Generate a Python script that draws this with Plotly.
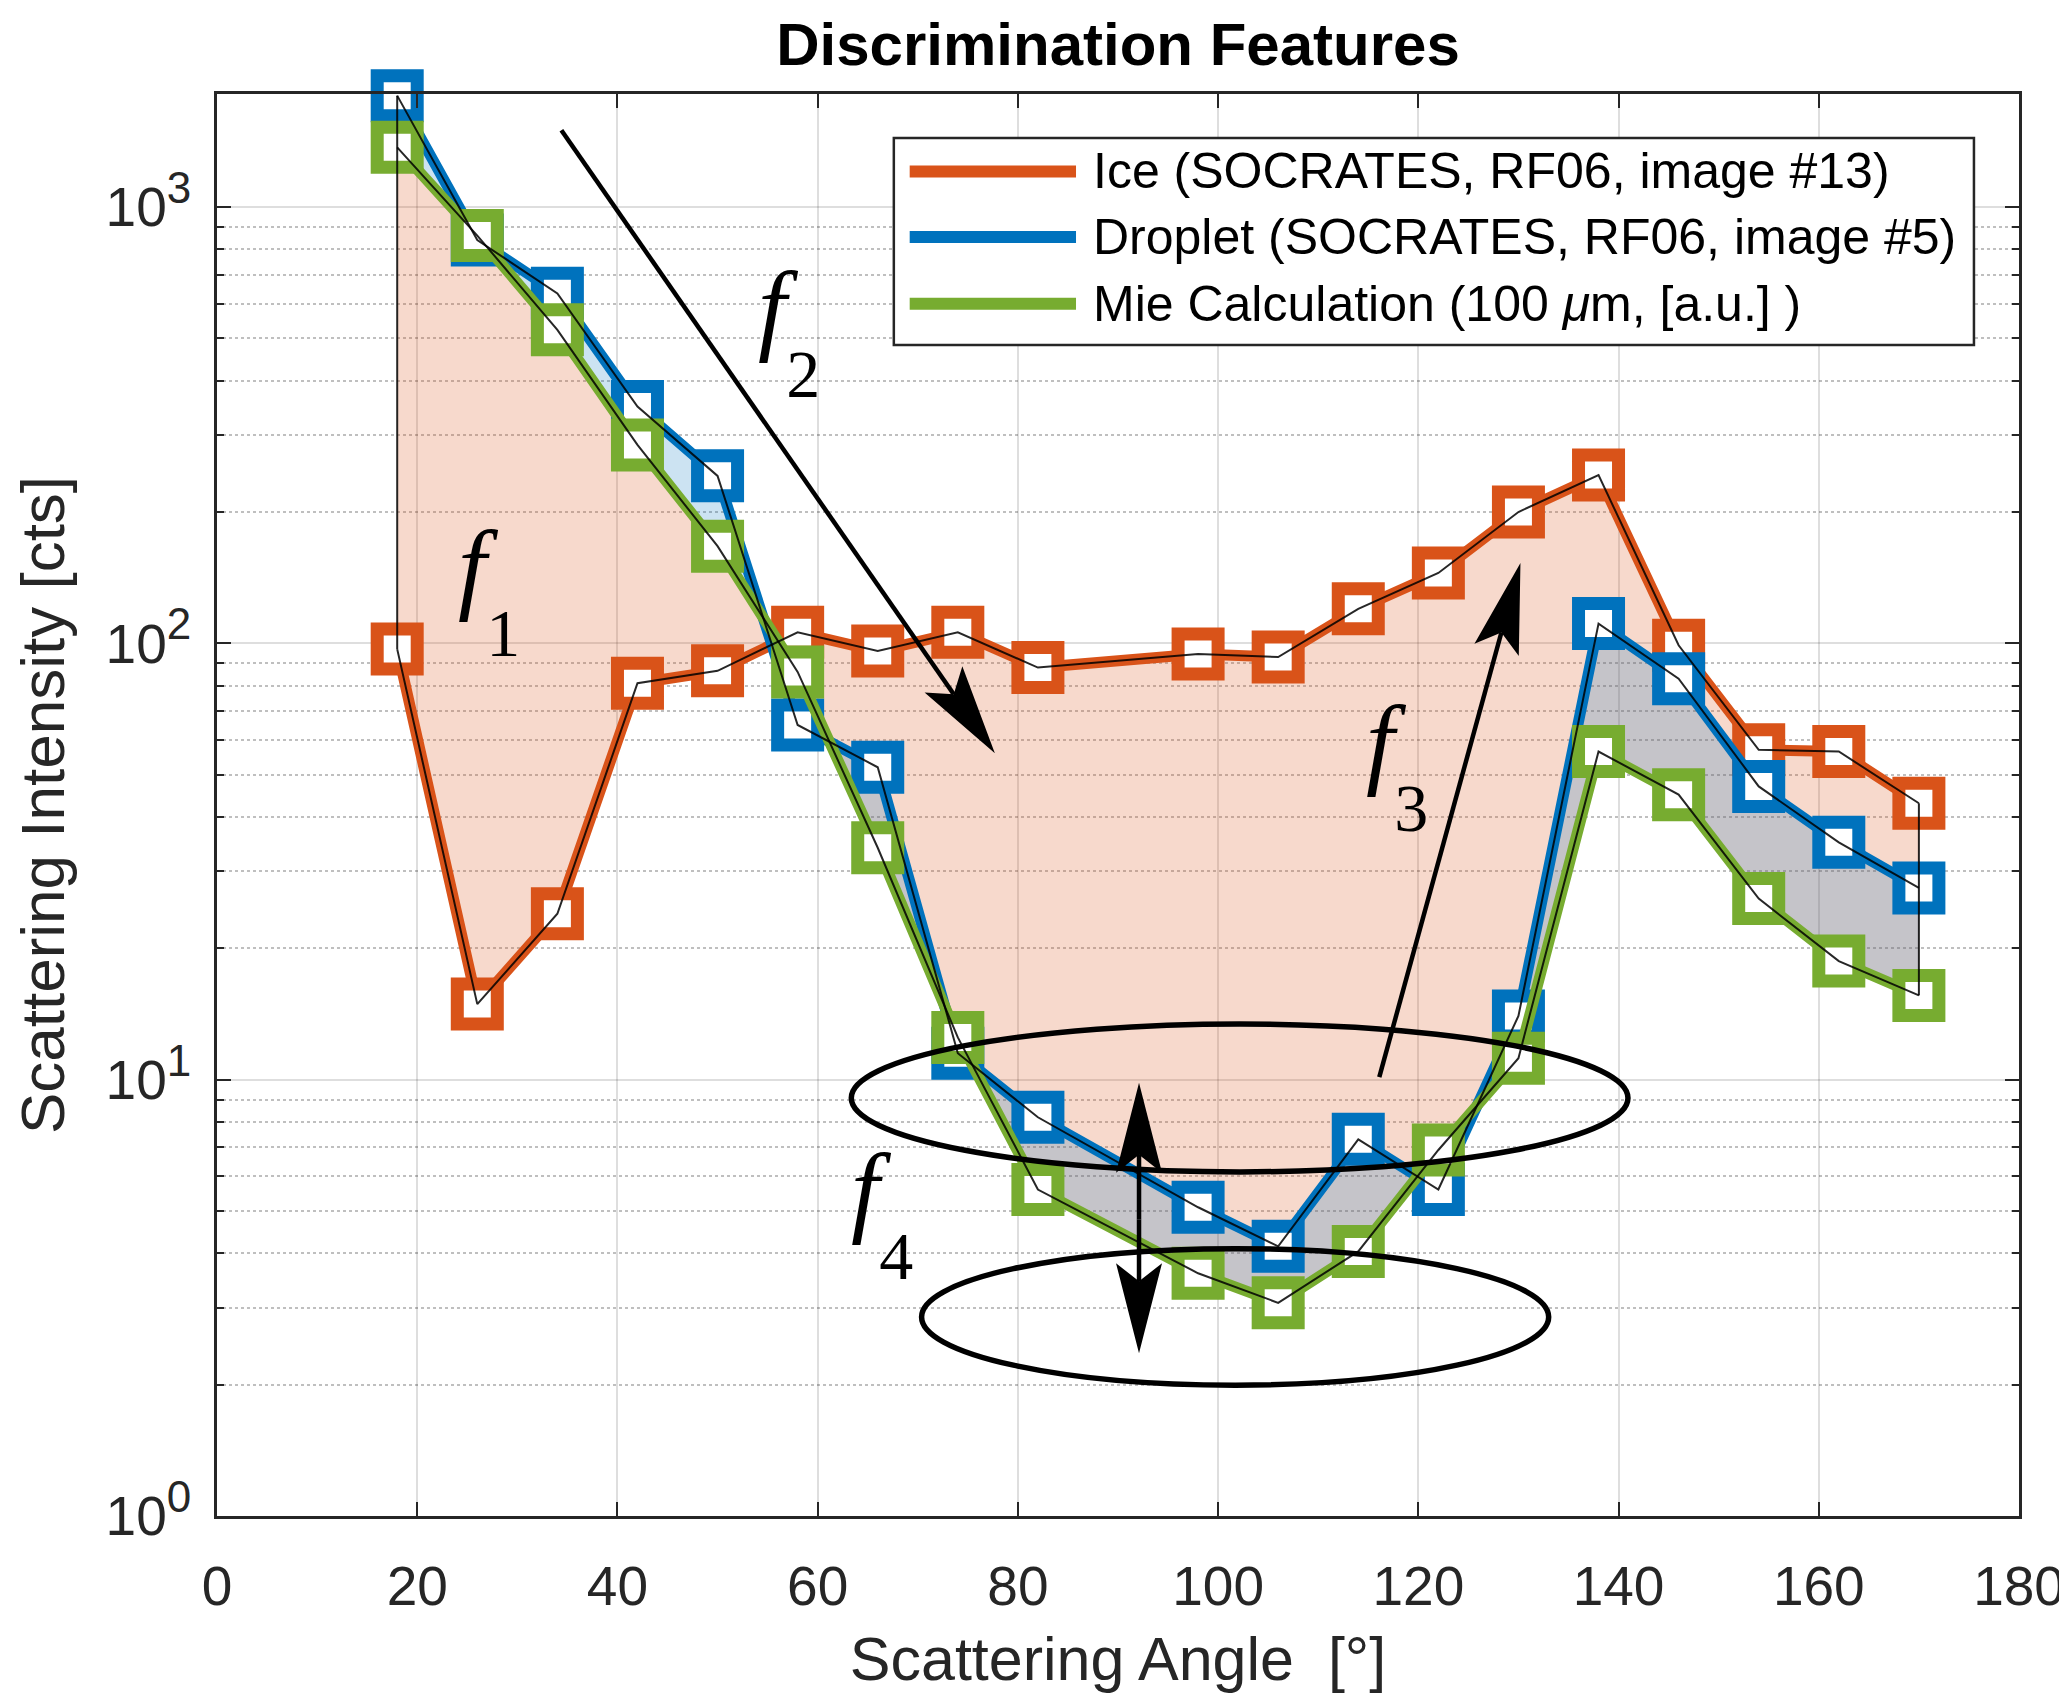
import math
import plotly.graph_objects as go

# ---------------- data ----------------
ANGLE = [18, 26, 34, 42, 50, 58, 66, 74, 82, 98, 106, 114, 122, 130, 138, 146, 154, 162, 170]
ICE = [97, 14.9, 24, 81, 86.5, 106, 96, 106, 88, 94.5, 93, 120, 145, 200, 243, 99, 57, 56.5, 43]
DROPLET = [1800, 840, 634, 349, 242, 65, 52, 11.5, 8.2, 5.1, 4.15, 7.3, 5.6, 14, 111, 83, 47, 35, 27.5]
MIE = [1370, 860, 523, 285, 167, 86, 34, 12.5, 5.6, 3.6, 3.08, 4.04, 6.9, 11.2, 56.5, 45, 26, 18.7, 15.6]

SERIES_NAMES = ["Ice (SOCRATES, RF06, image #13)",
                "Droplet (SOCRATES, RF06, image #5)",
                "Mie Calculation (100 <i>μ</i>m, [a.u.] )"]
X_TICKS = [0, 20, 40, 60, 80, 100, 120, 140, 160, 180]
Y_TICKS = [1, 10, 100, 1000]
Y_EXPONENTS = ["0", "1", "2", "3"]

# ---------------- style ----------------
C_ICE = "#D95319"
C_DROP = "#0072BD"
C_MIE = "#77AC30"
AX = "#262626"
FONT = "Liberation Sans, Arial, sans-serif"
SERIF = "Liberation Serif, DejaVu Serif, serif"

W, H = 2067, 1694
ML, MR, MT, MB = 209, 56, 86, 186
PW, PH = W - ML - MR, H - MT - MB
XR = (0, 180)
YR = (0, 3.259)

fig = go.Figure()

# fills: ice <-> mie (salmon), droplet <-> mie (translucent blue)
fig.add_trace(go.Scatter(x=ANGLE, y=MIE, mode="lines", line=dict(width=0),
                         showlegend=False, hoverinfo="skip"))
fig.add_trace(go.Scatter(x=ANGLE, y=ICE, mode="lines", line=dict(width=0),
                         fill="tonexty", fillcolor="rgba(217,83,25,0.22)",
                         showlegend=False, hoverinfo="skip"))
fig.add_trace(go.Scatter(x=ANGLE, y=MIE, mode="lines", line=dict(width=0),
                         showlegend=False, hoverinfo="skip"))
fig.add_trace(go.Scatter(x=ANGLE, y=DROPLET, mode="lines", line=dict(width=0),
                         fill="tonexty", fillcolor="rgba(0,114,189,0.20)",
                         showlegend=False, hoverinfo="skip"))

# coloured lines with square markers
for yv, col, name in [(ICE, C_ICE, SERIES_NAMES[0]),
                      (DROPLET, C_DROP, SERIES_NAMES[1]),
                      (MIE, C_MIE, SERIES_NAMES[2])]:
    fig.add_trace(go.Scatter(
        x=ANGLE, y=yv, mode="lines+markers", name=name, showlegend=False,
        line=dict(color=col, width=11),
        marker=dict(symbol="square", size=40, color="white",
                    line=dict(color=col, width=13)),
        cliponaxis=False))

# thin black outlines of the filled patches
BLK = "rgba(0,0,0,0.85)"
for yv in (ICE, DROPLET, MIE):
    fig.add_trace(go.Scatter(x=ANGLE, y=yv, mode="lines", line=dict(color=BLK, width=2),
                             showlegend=False, hoverinfo="skip", cliponaxis=False))
fig.add_trace(go.Scatter(x=[ANGLE[0], ANGLE[0]], y=[DROPLET[0], ICE[0]], mode="lines",
                         line=dict(color=BLK, width=2),
                         showlegend=False, hoverinfo="skip", cliponaxis=False))
fig.add_trace(go.Scatter(x=[ANGLE[-1], ANGLE[-1]], y=[ICE[-1], MIE[-1]], mode="lines",
                         line=dict(color=BLK, width=2),
                         showlegend=False, hoverinfo="skip", cliponaxis=False))

shapes = []
annotations = []


# ---------------- arrows (annotation geometry, x in deg, y in log10) ----------------
def to_px(x, ly):
    return ((x - XR[0]) / (XR[1] - XR[0]) * PW, (ly - YR[0]) / (YR[1] - YR[0]) * PH)


def to_data(px, py):
    return (XR[0] + px / PW * (XR[1] - XR[0]), YR[0] + py / PH * (YR[1] - YR[0]))


def arrow(tail, tip, hl=90, hw=46, notch=18, lw=4.5):
    tx, ty = to_px(*tail)
    hx, hy = to_px(*tip)
    dx, dy = hx - tx, hy - ty
    L = math.hypot(dx, dy)
    ux, uy = dx / L, dy / L
    nx, ny = -uy, ux
    pts = [(0, 0),
           (-hl * ux + hw / 2 * nx, -hl * uy + hw / 2 * ny),
           (-(hl - notch) * ux, -(hl - notch) * uy),
           (-hl * ux - hw / 2 * nx, -hl * uy - hw / 2 * ny)]
    path = "M" + " L".join(f"{px:.2f},{py:.2f}" for px, py in pts) + " Z"
    shapes.append(dict(type="path", xref="x", yref="y", xsizemode="pixel",
                       ysizemode="pixel", xanchor=tip[0], yanchor=10 ** tip[1],
                       path=path, fillcolor="black", line=dict(width=0), layer="above"))
    ex, ey = to_data(hx - (hl - notch) * ux, hy - (hl - notch) * uy)
    shapes.append(dict(type="line", xref="x", yref="y", x0=tail[0], y0=10 ** tail[1],
                       x1=ex, y1=10 ** ey, line=dict(color="black", width=lw), layer="above"))


ARROW_F2 = [(34.4, 3.176), (77.7, 1.748)]
ARROW_F3 = [(116.1, 1.006), (130.2, 2.184)]
ARROW_F4_MID = (92.1, 0.68)
ARROW_F4_TOP = (92.1, 0.993)
ARROW_F4_BOT = (92.1, 0.373)
arrow(*ARROW_F2)
arrow(*ARROW_F3)
arrow(ARROW_F4_MID, ARROW_F4_TOP)
arrow(ARROW_F4_MID, ARROW_F4_BOT)

# ellipses (paper coords)
ELLIPSES = [(0.352, 0.242, 0.783, 0.346), (0.391, 0.092, 0.739, 0.188)]
for x0, y0, x1, y1 in ELLIPSES:
    shapes.append(dict(type="circle", xref="paper", yref="paper", x0=x0, y0=y0, x1=x1, y1=y1,
                       line=dict(color="black", width=5.5), layer="above"))

# feature labels f1..f4 : glyph "f" centre (deg, log10); subscript drawn with a baseline shift
FEATURES = [("1", (25.7, 2.157)),
            ("2", (55.7, 2.749)),
            ("3", (116.4, 1.754)),
            ("4", (65.0, 0.727))]
F_SIZE = 102
SUB_SIZE = 68
for sub, fpos in FEATURES:
    cx, cy = to_px(*fpos)
    # anchor the text box top-left: box top ~ 0.89em above baseline, f centre ~0.23em above it
    left_px = cx - 0.17 * F_SIZE
    top_px = cy + (0.89 - 0.23) * F_SIZE
    annotations.append(dict(
        x=left_px / PW, y=top_px / PH, xref="paper", yref="paper",
        text=(f"<i>f</i><span style='font-size:{SUB_SIZE}px;baseline-shift:-56px'>"
              f"{sub}</span>"),
        showarrow=False, font=dict(family=SERIF, size=F_SIZE, color="black"),
        xanchor="left", yanchor="top", borderpad=0))

# ---------------- manual legend (paper coords) ----------------
LEG_BOX = (0.3756, 0.8235, 0.975, 0.969)
LEG_ROWS = [0.9455, 0.8995, 0.8525]
LEG_LINE_X = (0.3844, 0.4767)
LEG_TEXT_X = 0.4850
shapes.append(dict(type="rect", xref="paper", yref="paper", x0=LEG_BOX[0], y0=LEG_BOX[1],
                   x1=LEG_BOX[2], y1=LEG_BOX[3], fillcolor="white",
                   line=dict(color=AX, width=2.5), layer="above"))
for yrow, col, name in zip(LEG_ROWS, [C_ICE, C_DROP, C_MIE], SERIES_NAMES):
    shapes.append(dict(type="line", xref="paper", yref="paper", x0=LEG_LINE_X[0], x1=LEG_LINE_X[1],
                       y0=yrow, y1=yrow, line=dict(color=col, width=12), layer="above"))
    annotations.append(dict(x=LEG_TEXT_X, y=yrow, xref="paper", yref="paper", text=name,
                            showarrow=False, xanchor="left", yanchor="middle",
                            font=dict(family=FONT, size=50, color="black")))

# minor log ticks
minor_vals = [m * 10 ** e for e in range(0, 4) for m in range(2, 10)]
y_ticktext = [f"10<sup><span style='font-size:44px'>{e}</span></sup>" for e in Y_EXPONENTS]

fig.update_layout(
    width=W, height=H,
    margin=dict(l=ML, r=MR, t=MT, b=MB, autoexpand=False),
    paper_bgcolor="white", plot_bgcolor="white",
    showlegend=False,
    title=dict(text="<b>Discrimination Features</b>", x=(ML + PW / 2) / W, xanchor="center",
               xref="container", y=1 - 36 / H, yref="container", yanchor="middle",
               font=dict(family=FONT, size=60, color="black")),
    font=dict(family=FONT, color=AX),
    shapes=shapes, annotations=annotations,
    xaxis=dict(range=list(XR), tickvals=X_TICKS, ticks="inside", ticklen=14, tickwidth=2,
               tickcolor=AX, showline=True, linecolor=AX, linewidth=2.5, mirror="ticks",
               showgrid=True, gridcolor="rgba(0,0,0,0.13)", gridwidth=2, zeroline=False,
               tickfont=dict(family=FONT, size=55, color=AX), ticklabelstandoff=20,
               title=dict(text="Scattering Angle  [°]", font=dict(family=FONT, size=61, color=AX),
                          standoff=22)),
    yaxis=dict(type="log", range=list(YR), tickvals=Y_TICKS, ticktext=y_ticktext,
               ticks="inside", ticklen=14, tickwidth=2, tickcolor=AX,
               showline=True, linecolor=AX, linewidth=2.5, mirror="ticks",
               showgrid=True, gridcolor="rgba(0,0,0,0.13)", gridwidth=2, zeroline=False,
               tickfont=dict(family=FONT, size=55, color=AX), ticklabelstandoff=12,
               minor=dict(tickvals=minor_vals, ticks="inside", ticklen=7, tickwidth=1.5,
                          tickcolor=AX, showgrid=True, gridcolor="rgba(0,0,0,0.25)",
                          griddash="dot", gridwidth=1.5),
               title=dict(text="Scattering Intensity [cts]", font=dict(family=FONT, size=62, color=AX),
                          standoff=22)),
)

fig.write_html("out.html")
